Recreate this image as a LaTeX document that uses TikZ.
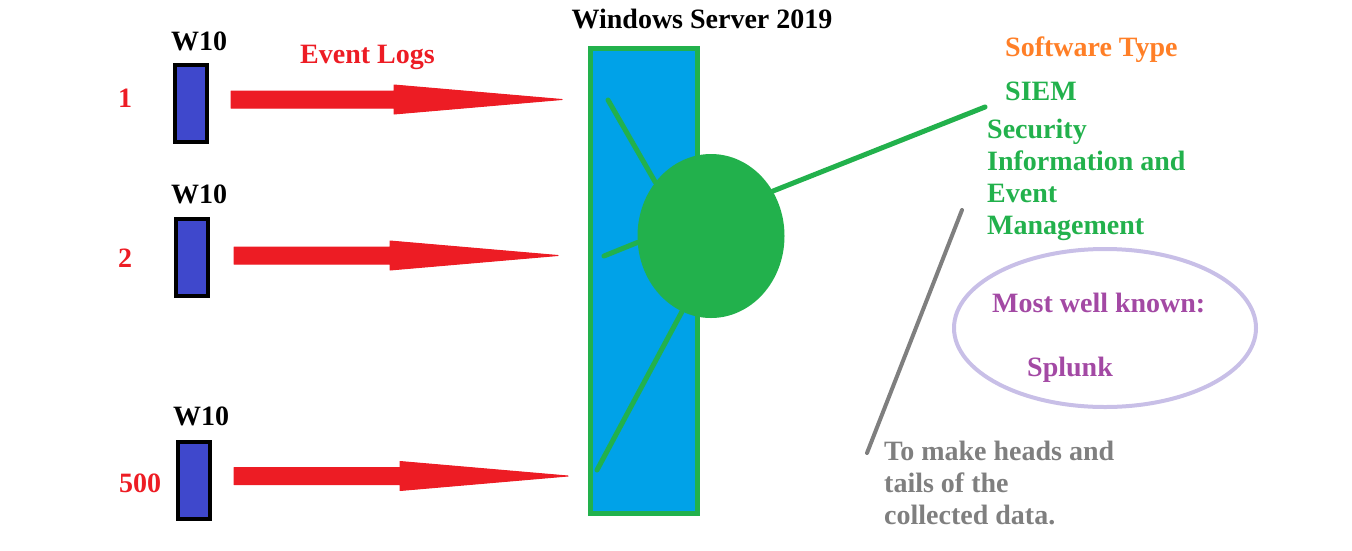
\documentclass[tikz,border=0pt]{standalone}
\usepackage{fontspec}
\setmainfont{Liberation Serif}
\usetikzlibrary{shapes.geometric,calc}
\definecolor{evred}{HTML}{ED1C24}
\definecolor{pcblue}{HTML}{3F48CC}
\definecolor{srvcyan}{HTML}{00A2E8}
\definecolor{siemgreen}{HTML}{22B14C}
\definecolor{swor}{HTML}{FF7F27}
\definecolor{splpurple}{HTML}{A349A4}
\definecolor{lav}{HTML}{C8BFE7}
\definecolor{gry}{HTML}{7F7F7F}
\tikzset{
  txt/.style={font=\fontsize{28}{32}\selectfont\bfseries, inner sep=0pt, anchor=base west},
  pcbox/.style={draw=black, line width=4pt, fill=pcblue, minimum width=32pt, minimum height=77pt, inner sep=0pt},
  evarrow/.style={fill=evred, draw=evred, line width=1pt, line join=round},
  spoke/.style={draw=siemgreen, line width=5pt, line cap=round},
}
\newcommand\fatarrow[2]{%
  \path[evarrow] ($(#1)+(0,-8.5)$) -- ($(#2)+(-168,-8.5)$) -- ($(#2)+(-168,-14.5)$)
    -- (#2) -- ($(#2)+(-168,14.5)$) -- ($(#2)+(-168,8.5)$) -- ($(#1)+(0,8.5)$) -- cycle;}
\begin{document}
\begin{tikzpicture}[x=1pt,y=-1pt]
\useasboundingbox (0,0) rectangle (1352,550);
% title
\node[txt, anchor=base] (title) at (702,28) {Windows Server 2019};
% server box
\node[draw=siemgreen, line width=5pt, fill=srvcyan, minimum width=107pt, minimum height=465pt, inner sep=0pt] (srv) at (644,281) {};
% SIEM ellipse and spokes
\coordinate (s1) at (608,100);
\coordinate (s2) at (604,256);
\coordinate (s3) at (597,470);
\coordinate (siemend) at (985,107);
\node[ellipse, fill=siemgreen, minimum width=147pt, minimum height=164pt, inner sep=0pt] (siem) at (711,236) {};
\draw[spoke] (s1) -- (siem.136);
\draw[spoke] (s2) -- (siem.185);
\draw[spoke] (s3) -- (siem.249);
\draw[spoke] (siemend) -- (siem.36);
% workstations
\node[pcbox] (w1) at (191,103.5) {};
\node[pcbox] (w2) at (192,257) {};
\node[pcbox] (w3) at (193.5,480) {};
\node[txt, anchor=base] (l1) at (199,50) {W10};
\node[txt, anchor=base] (l2) at (199,203) {W10};
\node[txt, anchor=base] (l3) at (201,425) {W10};
\node[txt, text=evred, anchor=base] (n1) at (125,107) {1};
\node[txt, text=evred, anchor=base] (n2) at (125,267) {2};
\node[txt, text=evred, anchor=base] (n3) at (140,492) {500};
\node[txt, text=evred] (evl) at (300,63) {Event Logs};
% arrows
\coordinate (a1s) at (231,99.5);
\coordinate (a1t) at (562,99.5);
\coordinate (a2s) at (234,255.5);
\coordinate (a2t) at (558,255.5);
\coordinate (a3s) at (234,476);
\coordinate (a3t) at (568,476);
\fatarrow{a1s}{a1t}
\fatarrow{a2s}{a2t}
\fatarrow{a3s}{a3t}
% right side texts
\node[txt, text=swor] (swt) at (1005,56) {Software Type};
\node[txt, text=siemgreen] (siemt) at (1005,100) {SIEM};
\node[txt, text=siemgreen] (sec1) at (987,138) {Security};
\node[txt, text=siemgreen] (sec2) at (987,170) {Information and};
\node[txt, text=siemgreen] (sec3) at (987,202) {Event};
\node[txt, text=siemgreen] (sec4) at (987,234) {Management};
% splunk ellipse
\node[ellipse, draw=lav, line width=4pt, minimum width=302pt, minimum height=158pt, inner sep=0pt] (spl) at (1105,328) {};
\node[txt, text=splpurple] (mwk) at (992,312) {Most well known:};
\node[txt, text=splpurple] (splk) at (1027,376) {Splunk};
% grey note
\coordinate (g1) at (962,210);
\coordinate (g2) at (867,453);
\draw[draw=gry, line width=4pt, line cap=round] (g1) -- (g2);
\node[txt, text=gry] (gt1) at (884,460) {To make heads and};
\node[txt, text=gry] (gt2) at (884,492) {tails of the};
\node[txt, text=gry] (gt3) at (884,524) {collected data.};
\end{tikzpicture}
\end{document}
